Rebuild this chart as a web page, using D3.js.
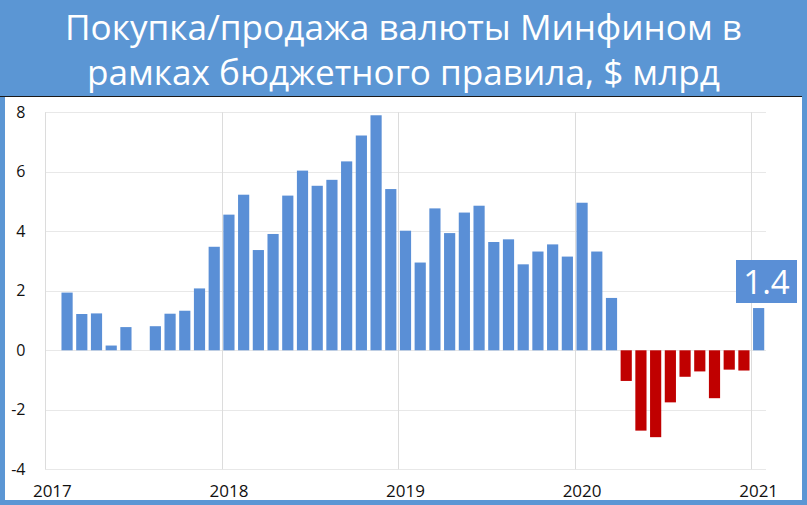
<!DOCTYPE html>
<html><head><meta charset="utf-8">
<script src="https://cdn.jsdelivr.net/npm/d3@7"></script>
<style>
html,body{margin:0;padding:0;background:#5b96d4;}
svg{display:block;}
</style></head>
<body>
<svg id="c" width="807" height="505"></svg>
<script>
const titleLines = ["Покупка/продажа валюты Минфином в", "рамках бюджетного правила, $ млрд"];
const months = [
 "2017-01","2017-02","2017-03","2017-04","2017-05","2017-06","2017-07","2017-08","2017-09","2017-10","2017-11","2017-12",
 "2018-01","2018-02","2018-03","2018-04","2018-05","2018-06","2018-07","2018-08","2018-09","2018-10","2018-11","2018-12",
 "2019-01","2019-02","2019-03","2019-04","2019-05","2019-06","2019-07","2019-08","2019-09","2019-10","2019-11","2019-12",
 "2020-01","2020-02","2020-03","2020-04","2020-05","2020-06","2020-07","2020-08","2020-09","2020-10","2020-11","2020-12",
 "2021-01"];
const values = [
 null,1.94,1.22,1.24,0.16,0.78,0,0.81,1.23,1.33,2.08,3.48,
 4.56,5.23,3.37,3.91,5.20,6.04,5.53,5.73,6.35,7.22,7.90,5.42,
 4.02,2.95,4.77,3.94,4.63,4.86,3.64,3.73,2.89,3.32,3.56,3.15,
 4.96,3.32,1.76,-1.03,-2.70,-2.92,-1.75,-0.89,-0.71,-1.61,-0.65,-0.68,
 1.42];
const yTicks = [-4,-2,0,2,4,6,8];
const yearLabels = ["2017","2018","2019","2020","2021"];
const lastLabel = "1.4";

const svg = d3.select("#c");
const W = 807, H = 505;
const blue = "#5b96d4", barBlue = "#5a8fd6", red = "#c00000";

svg.append("rect").attr("width", W).attr("height", H).attr("fill", blue);
svg.append("rect").attr("x", 5).attr("y", 97).attr("width", 797).attr("height", 403).attr("fill", "#fff");
svg.append("line").attr("x1", 0).attr("x2", 802).attr("y1", 96.5).attr("y2", 96.5)
  .attr("stroke", "#1a1a1a").attr("stroke-width", 1.2);

const tg = svg.append("g");
const titleY = [40, 85];
titleLines.forEach((t, i) => {
  tg.append("text").attr("x", 403.5).attr("y", titleY[i])
    .attr("text-anchor", "middle").attr("fill", "#fff")
    .attr("font-family", "Open Sans, sans-serif").attr("font-size", 34).text(t);
});
const l0 = tg.select("text").node().getComputedTextLength();
tg.selectAll("text").attr("font-size", 34 * 677 / l0);

const x = d3.scaleBand().domain(months).range([45, 766]).paddingInner(0.24).paddingOuter(0.12);
const y = d3.scaleLinear().domain([-4, 8]).range([469.3, 112.3]);
const xb = d3.scaleLinear().domain([0, months.length]).range([45, 766]);

svg.append("g").selectAll("line").data(yTicks).join("line")
  .attr("x1", 45).attr("x2", 766).attr("y1", d => Math.round(y(d)) + 0.5).attr("y2", d => Math.round(y(d)) + 0.5)
  .attr("stroke", "#e8e8e8").attr("stroke-width", 1);
const yearStarts = months.filter(m => m.endsWith("-01"));
svg.append("g").selectAll("line").data(yearStarts).join("line")
  .attr("x1", d => Math.round(xb(months.indexOf(d))) + 0.5).attr("x2", d => Math.round(xb(months.indexOf(d))) + 0.5)
  .attr("y1", y(8)).attr("y2", y(-4))
  .attr("stroke", "#dcdcdc").attr("stroke-width", 1);

svg.append("g").selectAll("text").data(yTicks).join("text")
  .attr("x", 25.5).attr("y", d => y(d) + 5.5)
  .attr("text-anchor", "end").attr("fill", "#111")
  .attr("font-family", "Open Sans, sans-serif").attr("font-size", 16)
  .text(d => d);

svg.append("g").selectAll("text").data(yearStarts).join("text")
  .attr("x", d => x(d) + x.bandwidth() / 2).attr("y", 497)
  .attr("text-anchor", "middle").attr("fill", "#111")
  .attr("font-family", "Open Sans, sans-serif").attr("font-size", 17)
  .text((d, i) => yearLabels[i]);

const data = months.map((m, i) => ({m, v: values[i]})).filter(d => d.v !== null && d.v !== 0);
svg.append("g").selectAll("rect").data(data).join("rect")
  .attr("x", d => x(d.m)).attr("width", x.bandwidth())
  .attr("y", d => y(Math.max(0, d.v))).attr("height", d => Math.abs(y(d.v) - y(0)))
  .attr("fill", d => d.v < 0 ? red : barBlue);

svg.append("rect").attr("x", 736).attr("y", 260).attr("width", 61).attr("height", 43).attr("fill", barBlue);
svg.append("text").attr("x", 766.5).attr("y", 293.5).attr("text-anchor", "middle")
  .attr("fill", "#fff").attr("font-family", "Open Sans, sans-serif").attr("font-size", 33)
  .text(lastLabel);
</script>
</body></html>
